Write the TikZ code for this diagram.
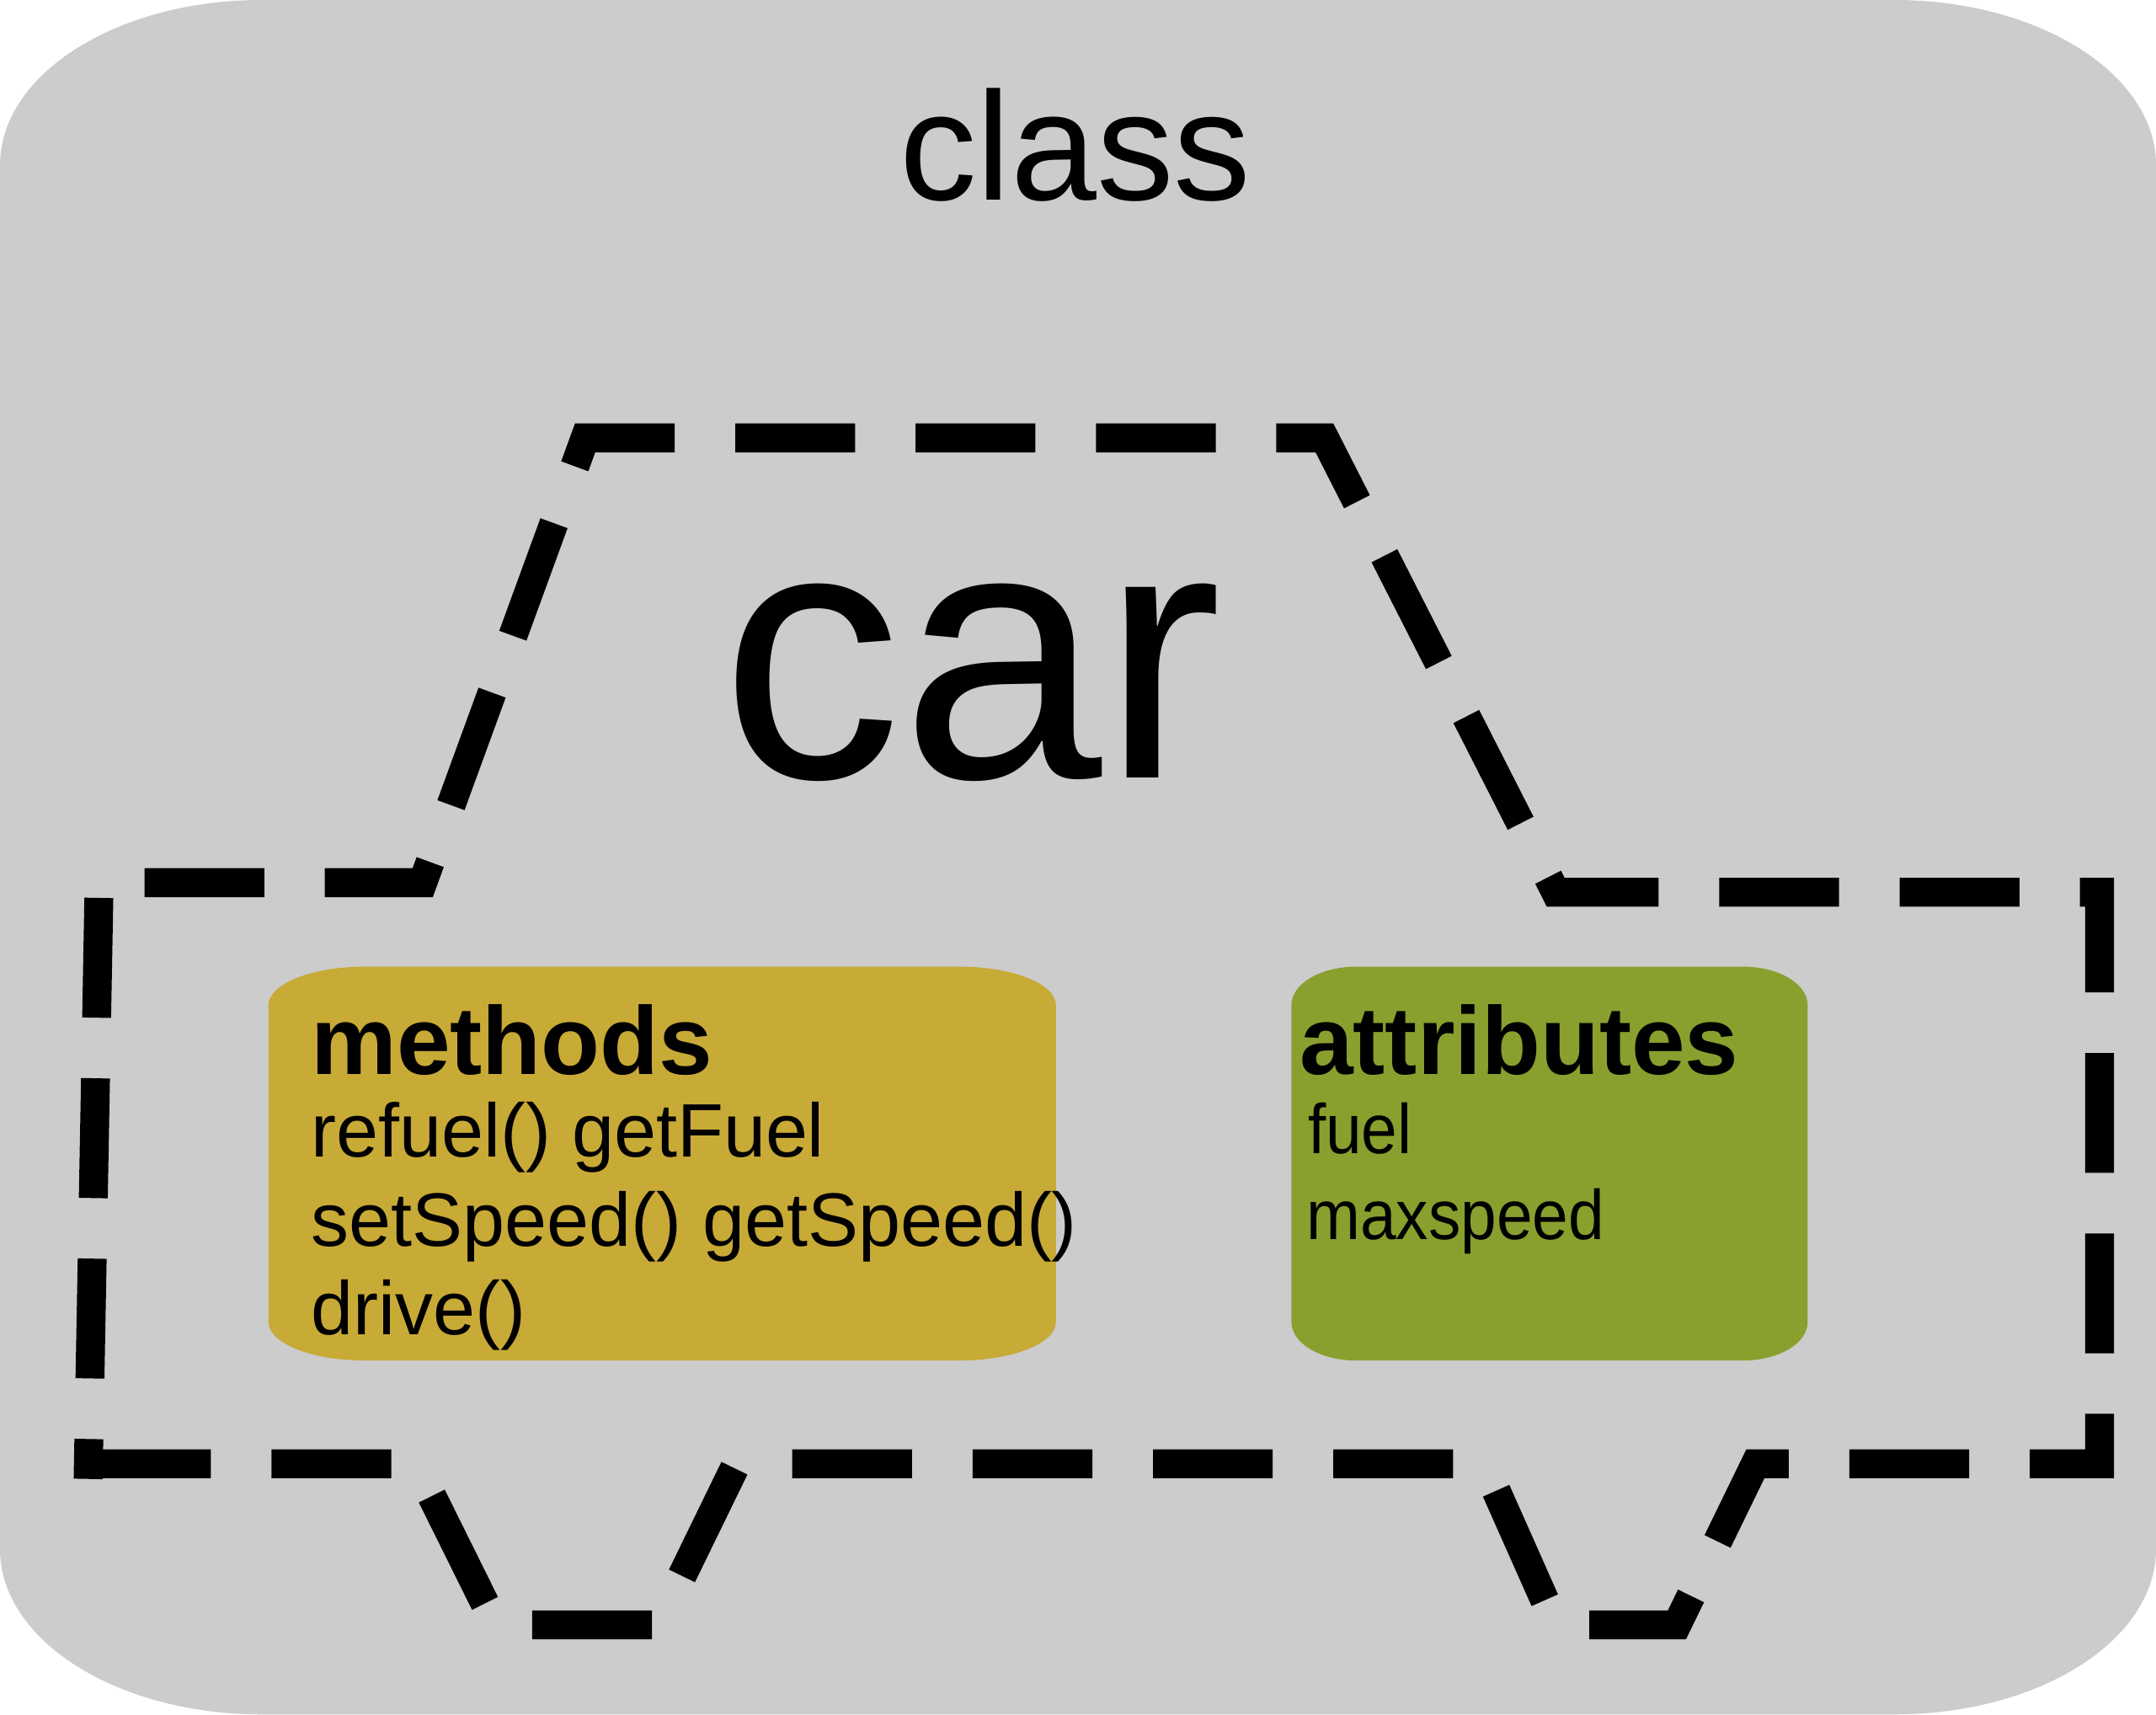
\documentclass[tikz,border=0pt]{standalone}
\usepackage{graphicx}
\usepackage{fontspec}
\setmainfont{Liberation Sans}
\definecolor{bggray}{RGB}{204,204,204}
\definecolor{methgold}{RGB}{200,170,54}
\definecolor{attrgreen}{RGB}{137,160,46}
\tikzset{
  carline/.style={line width=21pt, dash pattern=on 87pt off 44pt, dash phase=58pt, line join=miter, line cap=butt},
  txt/.style={inner sep=0pt, outer sep=0pt, anchor=base west},
}
\begin{document}
\begin{tikzpicture}[x=1pt,y=-1pt]
\useasboundingbox (0,0) rectangle (1566,1245);
% outer class shape
\fill[bggray] (190,0) -- (1376,0) .. controls (1480.9,0) and (1566,53.7) .. (1566,120)
  -- (1566,1125) .. controls (1566,1191.3) and (1480.9,1245) .. (1376,1245)
  -- (190,1245) .. controls (85.1,1245) and (0,1191.3) .. (0,1125)
  -- (0,120) .. controls (0,53.7) and (85.1,0) .. (190,0) -- cycle;
% methods box
\fill[methgold] (265,702) -- (697,702) .. controls (735.7,702) and (767,714.5) .. (767,730)
  -- (767,960) .. controls (767,975.5) and (735.7,988) .. (697,988)
  -- (265,988) .. controls (226.3,988) and (195,975.5) .. (195,960)
  -- (195,730) .. controls (195,714.5) and (226.3,702) .. (265,702) -- cycle;
% attributes box
\fill[attrgreen] (985,702) -- (1266,702) .. controls (1292,702) and (1313,714.5) .. (1313,730)
  -- (1313,960) .. controls (1313,975.5) and (1292,988) .. (1266,988)
  -- (985,988) .. controls (959,988) and (938,975.5) .. (938,960)
  -- (938,730) .. controls (938,714.5) and (959,702) .. (985,702) -- cycle;
% car outline
\coordinate (S) at (64,1074);
\coordinate (B) at (72,641);
\coordinate (C) at (307,641);
\coordinate (D) at (425,318);
\coordinate (E) at (962,318);
\coordinate (F) at (1130,648);
\coordinate (G) at (1525,648);
\coordinate (H) at (1525,1063);
\coordinate (I) at (1275,1063);
\coordinate (J) at (1218,1180);
\coordinate (K) at (1130,1180);
\coordinate (L) at (1078,1063);
\coordinate (M) at (535,1063);
\coordinate (N) at (478,1180);
\coordinate (O) at (360,1180);
\coordinate (P) at (302,1063);
\coordinate (T) at (65,1063);
\draw[carline] (S) -- (B) -- (C) -- (D) -- (E) -- (F) -- (G) -- (H) -- (I) -- (J) -- (K) -- (L) -- (M) -- (N) -- (O) -- (P) -- (T);
% texts
\node[inner sep=0pt, anchor=base] (cls) at (781,145) {\fontsize{112}{130}\selectfont class};
\node[inner sep=0pt, anchor=base] (car) at (706,565) {\fontsize{262}{300}\selectfont car};
\node[txt] (meth) at (226,780) {\fontsize{70}{80}\selectfont\bfseries methods};
\node[txt] (m1) at (226,840) {\fontsize{55}{64}\selectfont refuel() getFuel};
\node[txt] (m2) at (226,905) {\fontsize{55}{64}\selectfont setSpeed() getSpeed()};
\node[txt] (m3) at (226,969) {\fontsize{55}{64}\selectfont drive()};
\node[txt] (attr) at (944,780) {\fontsize{70}{80}\selectfont\bfseries attributes};
\node[txt] (a1) at (950,838) {\scalebox{0.92}[1]{\fontsize{51}{60}\selectfont fuel}};
\node[txt] (a2) at (949,900) {\scalebox{0.92}[1]{\fontsize{51}{60}\selectfont maxspeed}};
\end{tikzpicture}
\end{document}
